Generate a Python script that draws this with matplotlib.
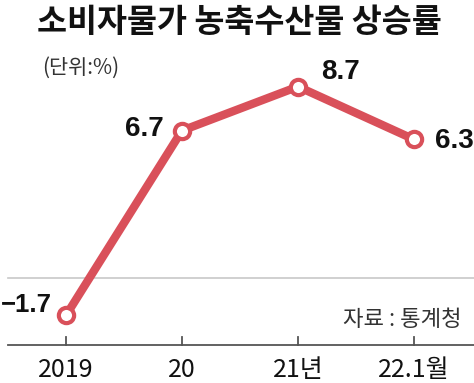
import matplotlib
matplotlib.use("Agg")
import matplotlib.pyplot as plt

# --- данные ---
periods = ["2019", "20", "21년", "22.1월"]
rates = [-1.7, 6.7, 8.7, 6.3]
value_labels = ["−1.7", "6.7", "8.7", "6.3"]

red = "#d9505a"
num_font = ["Liberation Sans Narrow", "Liberation Sans", "DejaVu Sans"]
kr_font = ["Noto Sans CJK KR", "DejaVu Sans"]
mix_font = ["Liberation Sans Narrow", "Noto Sans CJK KR", "DejaVu Sans"]

fig = plt.figure(figsize=(4.74, 3.83), dpi=100)
ax = fig.add_axes([0, 0, 1, 1])

# пиксельная привязка: x0=66px, шаг 116px; y=0 на 278px, 22px на единицу
px_x, px_y = 116.0, 22.0
ax.set_xlim(-66 / px_x, (474 - 66) / px_x)
ax.set_ylim(-(383 - 278) / px_y, 278 / px_y)
ax.axis("off")

xs = list(range(len(periods)))

# нулевая линия и ось
ax.axhline(0, xmin=8 / 474, xmax=1, color="#c8c8c8", lw=1.2, zorder=1)
y_axis = -(345 - 278) / px_y
ax.axhline(y_axis, xmin=8 / 474, xmax=1, color="#555555", lw=1.3, zorder=1)
for x in xs:
    ax.plot([x, x], [y_axis, y_axis + 8 / px_y], color="#555555", lw=1.3)
    ax.text(x, y_axis - 25 / px_y, periods[x], ha="center", va="center",
            fontsize=18, family=mix_font, color="#111111")

ax.plot(xs, rates, color=red, lw=6, solid_capstyle="round", zorder=3)
ax.plot(xs, rates, "o", ms=11, mfc="white", mec=red, mew=3, zorder=4)

# подписи значений
offsets = [(-0.12, 0.45, "right", 18.5), (-0.16, 0.05, "right", 20),
           (0.2, 0.65, "left", 20), (0.18, -0.05, "left", 20)]
for x, (dx, dy, ha, fs) in zip(xs, offsets):
    ax.text(x + dx, rates[x] + dy, value_labels[x], ha=ha, va="center",
            fontsize=fs, fontweight="bold", family=num_font, color="#111111")

fig.text(0.505, 0.94, "소비자물가 농축수산물 상승률", ha="center", va="center",
         fontsize=23.5, fontweight="bold", family=kr_font, color="#111111")
fig.text(42 / 474, 1 - 68 / 383, "(단위:%)", ha="left", va="center",
         fontsize=15, family=kr_font, color="#333333")
fig.text(462 / 474, 1 - 320 / 383, "자료 : 통계청", ha="right", va="center",
         fontsize=16, family=kr_font, color="#333333")

fig.savefig("out.png", dpi=100)
